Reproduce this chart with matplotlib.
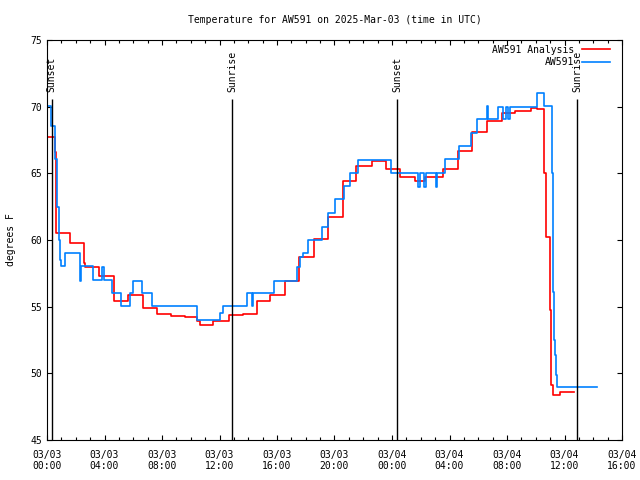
import numpy as np
import pandas as pd
import matplotlib
matplotlib.use("Agg")
import matplotlib.pyplot as plt
import matplotlib.dates as mdates

# hours after 2025-03-03 00:00 UTC, step starts (last entry = end of series)
analysis_hours = [0.0, 0.535, 0.605, 0.647, 1.6, 2.574, 2.643, 3.617, 4.64, 5.656,
                  6.657, 7.631, 8.605, 9.6, 10.456, 10.64, 11.57, 12.66, 13.61, 14.63,
                  15.51, 16.56, 17.55, 18.6, 19.57, 20.61, 21.5, 22.59, 23.56, 24.56,
                  25.6, 26.3, 27.57, 28.61, 29.54, 30.59, 31.63, 32.56, 33.65, 34.11,
                  34.6, 34.69, 34.99, 35.06, 35.22, 35.69, 36.66]
analysis_temp = [67.7, 66.6, 62.5, 60.5, 59.8, 58.25, 58.0, 57.3, 55.4, 55.9,
                 54.9, 54.45, 54.3, 54.2, 53.95, 53.6, 53.9, 54.4, 54.45, 55.4,
                 55.9, 56.95, 58.7, 60.1, 61.7, 64.4, 65.55, 65.95, 65.3, 64.7,
                 64.4, 64.7, 65.3, 66.7, 68.1, 68.9, 69.5, 69.7, 69.9, 69.8,
                 65.0, 60.25, 54.75, 49.1, 48.4, 48.6, 48.6]

station_hours = [0.0, 0.28, 0.556, 0.717, 0.814, 0.904, 0.953, 1.23, 2.275, 2.33,
                 2.386, 3.22, 3.847, 3.944, 4.54, 5.127, 5.774, 6.0, 6.63, 7.325,
                 10.41, 12.03, 12.22, 13.89, 14.24, 14.33, 15.79, 17.37, 17.6, 17.81,
                 18.18, 19.11, 19.57, 20.03, 20.68, 21.08, 21.66, 23.91, 25.83, 25.98,
                 26.26, 26.4, 27.06, 27.16, 27.69, 28.68, 29.47, 29.89, 30.59, 30.68,
                 31.4, 31.7, 31.93, 32.07, 32.21, 32.35, 34.11, 34.57, 35.11, 35.17,
                 35.27, 35.34, 35.41, 35.46, 38.28]
station_temp = [70.05, 68.55, 66.05, 62.5, 60.0, 58.5, 58.05, 59.0, 58.05, 56.95,
                58.05, 57.0, 58.0, 57.0, 56.0, 55.05, 56.0, 56.95, 56.0, 55.05,
                54.0, 54.5, 55.05, 56.0, 55.05, 56.0, 56.95, 58.0, 58.7, 59.0,
                60.0, 61.0, 62.0, 63.05, 64.05, 65.0, 66.0, 65.0, 64.0, 65.0,
                64.0, 65.0, 64.0, 65.0, 66.05, 67.05, 68.05, 69.05, 70.05, 69.05,
                70.0, 69.05, 70.0, 69.05, 70.0, 70.0, 71.05, 70.05, 65.0, 56.1,
                52.5, 51.4, 49.9, 48.95, 48.95]

event_hours = [0.33, 12.89, 24.37, 36.89]
event_names = ["Sunset", "Sunrise", "Sunset", "Sunrise"]

t0 = pd.Timestamp("2025-03-03 00:00")
def to_time(hours):
    return [t0 + pd.Timedelta(hours=h) for h in hours]

plt.rcParams["font.family"] = "DejaVu Sans Mono"
plt.rcParams["font.size"] = 7

fig = plt.figure(figsize=(6.4, 4.8), dpi=100)
ax = fig.add_axes([47 / 640, 40 / 480, 575 / 640, 400 / 480])

ax.step(to_time(analysis_hours), analysis_temp, where="post", color="#ff0000",
        lw=1.2, label="AW591 Analysis")
ax.step(to_time(station_hours), station_temp, where="post", color="#0080ff",
        lw=1.2, label="AW591")

for t, name in zip(to_time(event_hours), event_names):
    ax.vlines(t, 45, 70.57, color="black", lw=1)
    ax.text(t, 71.1, name, rotation=90, ha="center", va="bottom", fontsize=7)

ax.set_xlim(t0, t0 + pd.Timedelta(hours=40))
ax.set_ylim(45, 75)
ax.set_yticks(np.arange(45, 76, 5))
ax.xaxis.set_major_locator(mdates.HourLocator(byhour=range(0, 24, 4)))
ax.xaxis.set_minor_locator(mdates.HourLocator())
ax.xaxis.set_major_formatter(mdates.DateFormatter("%m/%d\n%H:%M"))

ax.tick_params(which="both", direction="in", top=True, right=True, width=0.8)
ax.tick_params(which="major", length=3.5)
ax.tick_params(axis="x", which="major", pad=7)
ax.tick_params(which="minor", length=2)
for s in ax.spines.values():
    s.set_linewidth(0.8)

ax.set_title("Temperature for AW591 on 2025-Mar-03 (time in UTC)", fontsize=7, pad=12)
ax.set_ylabel("degrees F", labelpad=10)

ax.legend(loc="upper right", bbox_to_anchor=(0.979, 0.988), frameon=False,
          markerfirst=False, handlelength=2.9, handletextpad=0.8, labelspacing=0.25,
          borderaxespad=0.0, borderpad=0.0, fontsize=7)

fig.savefig("out.png", dpi=100)
